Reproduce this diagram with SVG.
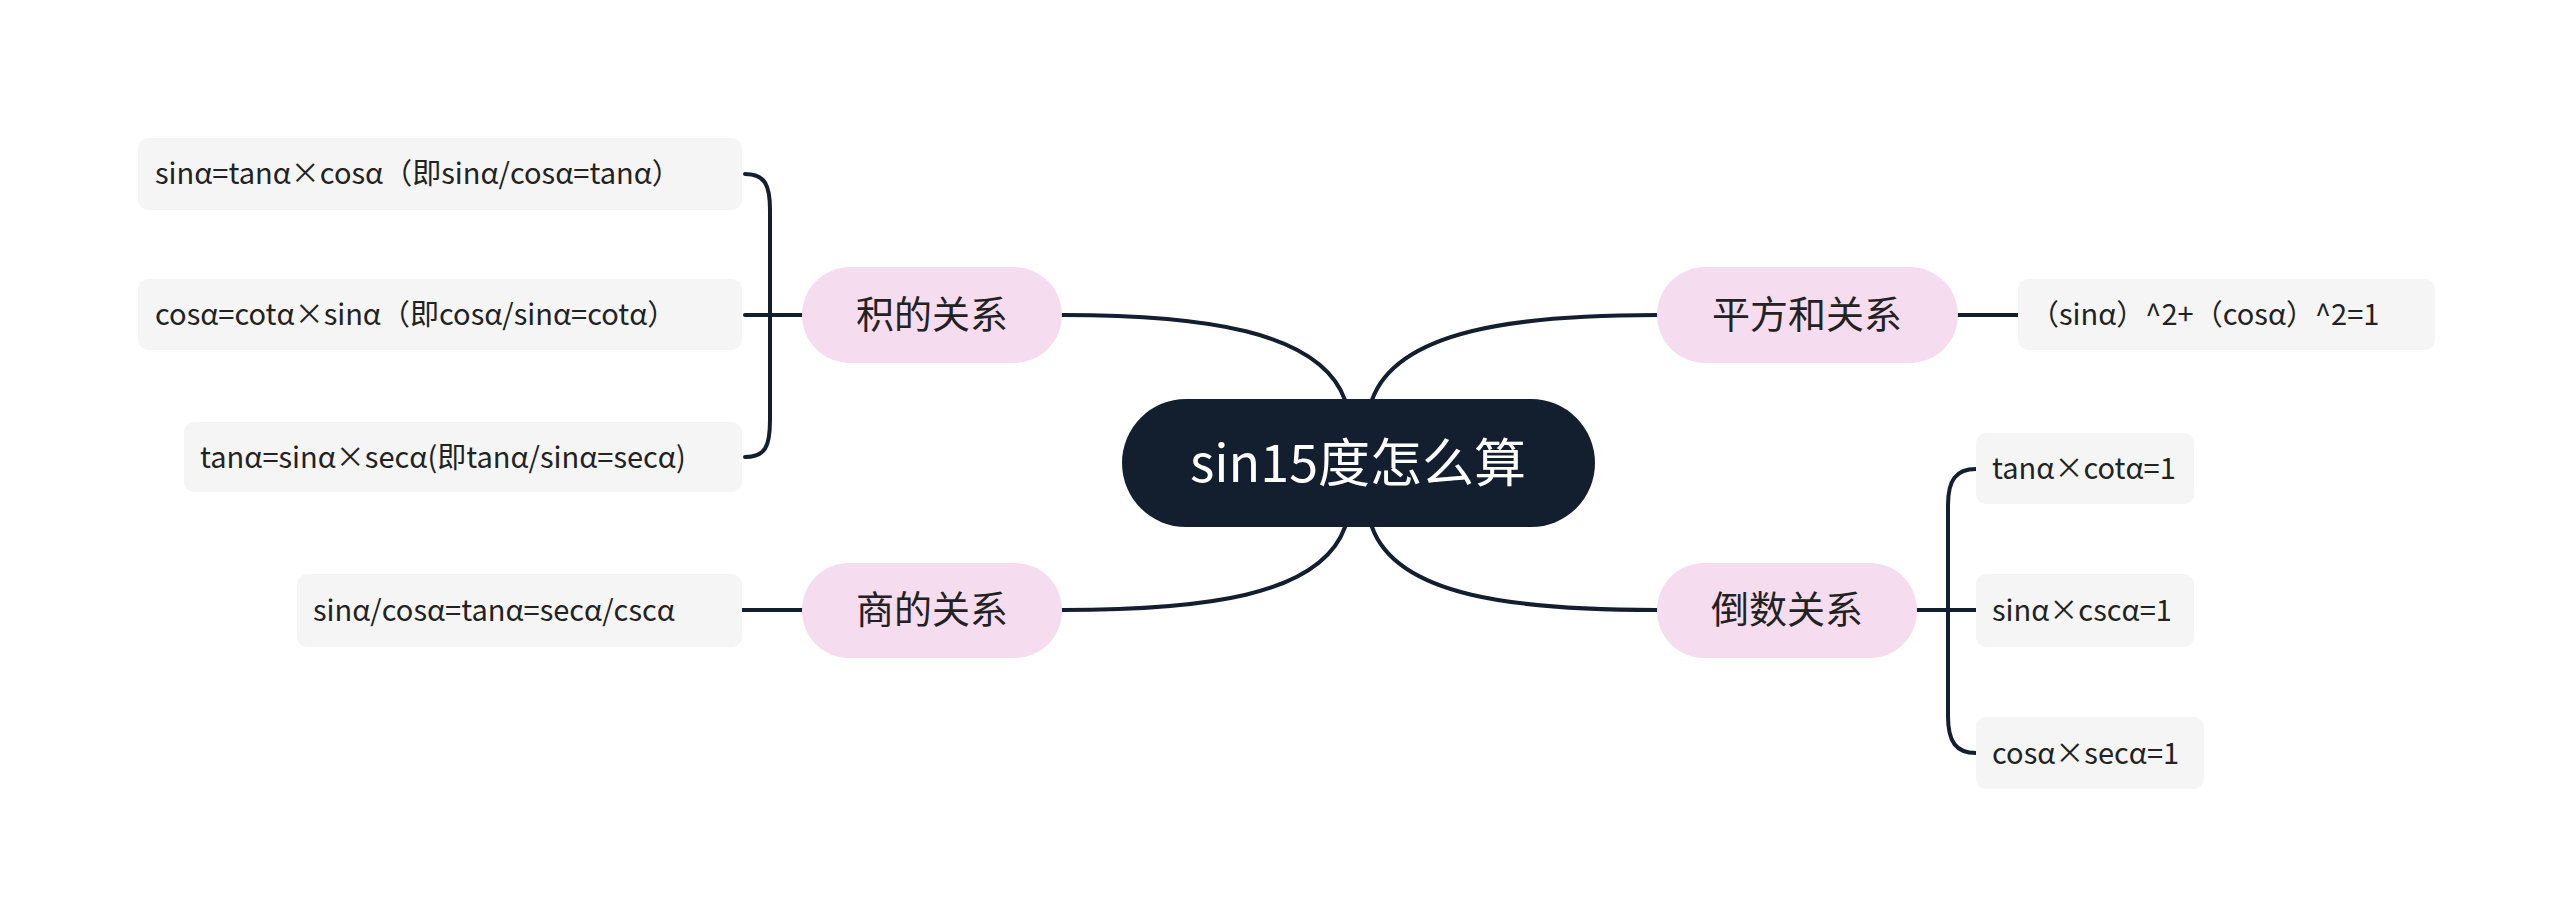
<svg xmlns="http://www.w3.org/2000/svg" width="2560" height="922" viewBox="0 0 2560 922">
<style>
.c{fill:none;stroke:#131f2e;stroke-width:4;stroke-linecap:round}
.sub{fill:#f6dcef}
.leaf{fill:#f5f5f5}
text{font-family:"Noto Sans CJK SC","Noto Sans",sans-serif;fill:#222}
.st{font-size:38px}
.lt{font-size:29px}
</style>
<rect width="2560" height="922" fill="#fff"/>
<g id="connectors">
<path class="c" d="M1345,400 C1320,330 1200,315 1062,315"/>
<path class="c" d="M1372,400 C1397,330 1517,315 1657,315"/>
<path class="c" d="M1345,527 C1320,597 1200,610 1062,610"/>
<path class="c" d="M1372,527 C1397,597 1517,610 1657,610"/>
<path class="c" d="M802,315 H745"/>
<path class="c" d="M745,174 C765,174 770,185 770,210 V420 C770,447 765,457 745,457"/>
<path class="c" d="M802,610 H742"/>
<path class="c" d="M1958,315 H2018"/>
<path class="c" d="M1917,610 H1976"/>
<path class="c" d="M1976,469 C1956,469 1948,480 1948,505 V716 C1948,742 1956,753 1976,753"/>
</g>
<g id="center"><rect x="1122" y="399" width="473" height="128" rx="64" fill="#131f2e"/><text x="1358" y="482" text-anchor="middle" font-size="52" style="fill:#fff">sin15度怎么算</text></g>
<g id="n-ji"><rect class="sub" x="802" y="267" width="260" height="96" rx="48"/><text class="st" x="932" y="328" text-anchor="middle">积的关系</text></g>
<g id="n-shang"><rect class="sub" x="802" y="563" width="260" height="95" rx="47"/><text class="st" x="932" y="623" text-anchor="middle">商的关系</text></g>
<g id="n-pf"><rect class="sub" x="1657" y="267" width="301" height="96" rx="48"/><text class="st" x="1807" y="328" text-anchor="middle">平方和关系</text></g>
<g id="n-ds"><rect class="sub" x="1657" y="563" width="260" height="95" rx="47"/><text class="st" x="1787" y="623" text-anchor="middle">倒数关系</text></g>
<g id="l1"><rect class="leaf" x="138" y="138" width="604" height="72" rx="10"/><text class="lt" x="155" y="184">sinα=tanα×cosα（即sinα/cosα=tanα）</text></g>
<g id="l2"><rect class="leaf" x="138" y="279" width="604" height="71" rx="10"/><text class="lt" x="155" y="325">cosα=cotα×sinα（即cosα/sinα=cotα）</text></g>
<g id="l3"><rect class="leaf" x="184" y="422" width="558" height="70" rx="10"/><text class="lt" x="200" y="468">tanα=sinα×secα(即tanα/sinα=secα)</text></g>
<g id="l4"><rect class="leaf" x="297" y="574" width="445" height="73" rx="10"/><text class="lt" x="313" y="621">sinα/cosα=tanα=secα/cscα</text></g>
<g id="r0"><rect class="leaf" x="2018" y="279" width="417" height="71" rx="10"/><text class="lt" x="2030" y="325">（sinα）^2+（cosα）^2=1</text></g>
<g id="r1"><rect class="leaf" x="1976" y="433" width="218" height="71" rx="10"/><text class="lt" x="1992" y="479">tanα×cotα=1</text></g>
<g id="r2"><rect class="leaf" x="1976" y="574" width="218" height="73" rx="10"/><text class="lt" x="1992" y="621">sinα×cscα=1</text></g>
<g id="r3"><rect class="leaf" x="1976" y="717" width="228" height="72" rx="10"/><text class="lt" x="1992" y="764">cosα×secα=1</text></g>
</svg>
